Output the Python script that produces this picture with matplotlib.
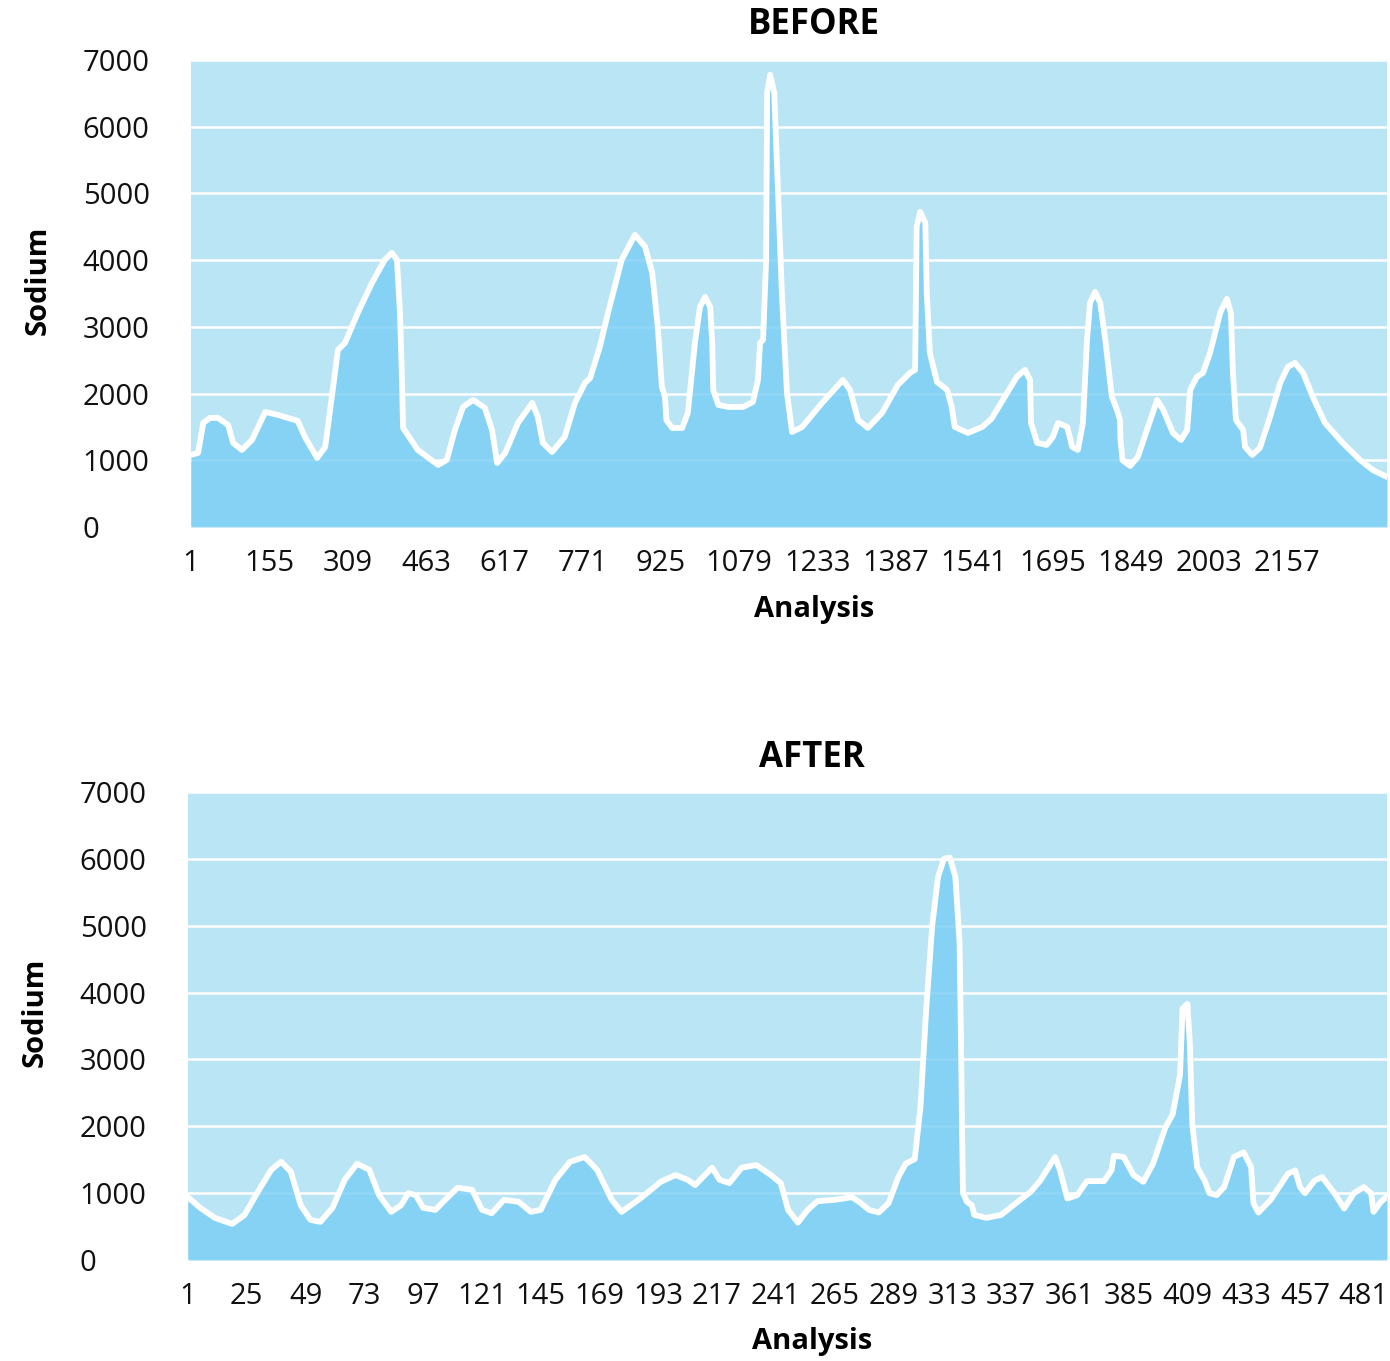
import numpy as np
import matplotlib
matplotlib.use('Agg')
import matplotlib.pyplot as plt

plt.rcParams['font.family'] = 'Open Sans'

# ============================================================
# DATA
# ============================================================
before_x = [1, 15, 25, 38, 54, 74, 84, 101, 121, 147, 172, 211, 225, 249, 265, 278,
            290, 304, 329, 357, 382, 396, 406, 412, 416, 418, 447, 487, 504, 520, 536,
            556, 579, 593, 603, 619, 644, 672, 683, 693, 711, 736, 756, 776, 786, 805,
            821, 848, 874, 894, 908, 919, 927, 933, 936, 947, 967, 978, 992, 1002, 1012,
            1022, 1026, 1028, 1038, 1057, 1087, 1106, 1116, 1120, 1126, 1132, 1134, 1140,
            1148, 1153, 1163, 1173, 1183, 1203, 1242, 1283, 1297, 1313, 1332, 1360, 1391,
            1415, 1425, 1426, 1428, 1435, 1445, 1448, 1454, 1468, 1488, 1497, 1503, 1529,
            1557, 1575, 1606, 1625, 1641, 1651, 1653, 1665, 1684, 1696, 1706, 1724, 1734,
            1745, 1755, 1763, 1769, 1779, 1789, 1799, 1812, 1822, 1828, 1829, 1833, 1848,
            1863, 1881, 1901, 1913, 1932, 1948, 1960, 1966, 1979, 1991, 2005, 2025, 2038,
            2046, 2050, 2056, 2070, 2074, 2088, 2103, 2123, 2143, 2158, 2172, 2188, 2207,
            2231, 2266, 2300, 2325, 2353]
before_sodium = [1080, 1110, 1560, 1635, 1635, 1530, 1260, 1155, 1305, 1725, 1680, 1590,
                 1350, 1035, 1200, 1950, 2655, 2760, 3210, 3660, 4005, 4110, 4005, 3210,
                 2205, 1485, 1155, 930, 1005, 1455, 1800, 1905, 1785, 1455, 960, 1110,
                 1560, 1860, 1650, 1260, 1125, 1350, 1860, 2160, 2235, 2700, 3210, 4005,
                 4380, 4200, 3810, 3000, 2100, 1950, 1600, 1485, 1485, 1710, 2760, 3300,
                 3450, 3300, 2760, 2055, 1830, 1800, 1800, 1875, 2205, 2760, 2805, 4005,
                 6510, 6780, 6510, 5505, 3510, 2010, 1425, 1500, 1860, 2205, 2055, 1605,
                 1485, 1710, 2130, 2310, 2355, 3000, 4500, 4725, 4560, 3510, 2610, 2175,
                 2055, 1800, 1500, 1410, 1500, 1620, 2010, 2250, 2355, 2205, 1560, 1260,
                 1230, 1350, 1560, 1500, 1200, 1155, 1560, 2805, 3360, 3525, 3360, 2805,
                 1950, 1755, 1605, 1300, 1000, 915, 1050, 1455, 1905, 1755, 1410, 1305,
                 1455, 2055, 2250, 2310, 2610, 3210, 3420, 3210, 2310, 1605, 1455, 1200,
                 1080, 1185, 1650, 2160, 2400, 2460, 2310, 1950, 1560, 1260, 1005, 855, 750]

after_x = [1, 6, 12, 19, 24, 30, 35, 39, 43, 47, 51, 55, 60, 65, 70, 75, 79, 84, 88, 91,
           94, 97, 102, 106, 111, 117, 121, 125, 130, 136, 141, 145, 151, 157, 163, 168,
           174, 178, 186, 194, 200, 205, 208, 212, 215, 218, 222, 227, 233, 239, 243, 246,
           250, 254, 258, 265, 272, 275, 279, 283, 287, 291, 294, 297.7, 300, 302.4, 304.8,
           307.2, 309.6, 312, 314.3, 316, 316.6, 317, 317.4, 319, 321, 322, 327, 333, 339,
           345, 349, 355, 357, 360, 364, 368, 375, 378, 379, 383, 387, 391, 395, 400, 403,
           406, 407, 409, 410, 411, 413, 416, 418, 421, 424, 428, 432, 435, 436, 438, 443,
           450, 453, 455, 457, 461, 464, 469, 473, 477, 481, 484, 485, 488, 490.5]
after_sodium = [940, 780, 630, 540, 670, 1050, 1350, 1470, 1320, 820, 600, 570, 780, 1200,
                1440, 1350, 970, 720, 820, 1000, 970, 780, 750, 900, 1080, 1050, 750, 700,
                900, 870, 720, 750, 1200, 1470, 1540, 1350, 900, 720, 930, 1170, 1270, 1200,
                1120, 1270, 1380, 1200, 1150, 1380, 1420, 1270, 1150, 750, 560, 750, 880,
                900, 940, 870, 750, 710, 850, 1240, 1440, 1510, 2280, 3760, 4990, 5730,
                6000, 6020, 5730, 4740, 3260, 2000, 1000, 870, 820, 675, 630, 675, 850,
                1020, 1190, 1540, 1340, 920, 970, 1180, 1180, 1340, 1560, 1540, 1270, 1170,
                1440, 1980, 2180, 2770, 3760, 3830, 3260, 2030, 1390, 1190, 1000, 970, 1090,
                1540, 1610, 1390, 850, 710, 900, 1290, 1340, 1090, 1000, 1190, 1240, 1000,
                770, 1000, 1090, 1000, 720, 870, 950]

before_ticks = list(range(1, 2158, 154))
after_ticks = list(range(1, 482, 24))
y_ticks = list(range(0, 7001, 1000))

BG = '#b9e5f5'
FILL = '#7ecff6'
W, H = 1390, 1361


def draw_panel(ax, x, y, xticks, xmax):
    ax.set_facecolor(BG)
    ax.fill_between(x, 0, y, color=FILL, alpha=0.85, lw=0, zorder=2)
    ax.plot(x, y, color='white', lw=4.2, solid_joinstyle='round',
            solid_capstyle='round', zorder=3)
    ax.set_xlim(1, xmax)
    ax.set_ylim(0, 7000)
    ax.set_yticks(y_ticks)
    ax.set_xticks(xticks)
    ax.set_xticklabels([str(t) for t in xticks])
    ax.grid(axis='y', color='white', lw=1.8, zorder=1)
    ax.set_axisbelow(True)
    for s in ax.spines.values():
        s.set_visible(False)
    ax.tick_params(axis='both', length=0, labelsize=21, colors='#111111')
    ax.tick_params(axis='x', pad=16)
    ax.tick_params(axis='y', pad=78)
    for lab in ax.get_yticklabels():
        lab.set_horizontalalignment('left')


fig = plt.figure(figsize=(W / 100, H / 100), dpi=100)

ax1 = fig.add_axes([191 / W, 1 - 527 / H, (1387 - 191) / W, (527 - 60) / H])
draw_panel(ax1, before_x, before_sodium, before_ticks, 2353)

ax2 = fig.add_axes([188 / W, 1 - 1260 / H, (1387 - 188) / W, (1260 - 792) / H])
draw_panel(ax2, after_x, after_sodium, after_ticks, 490.5)

# titles and axis labels
fig.text(814 / W, 1 - 25 / H, 'BEFORE', ha='center', va='center', fontsize=25, fontweight='bold')
fig.text(812 / W, 1 - 758 / H, 'AFTER', ha='center', va='center', fontsize=25, fontweight='bold')
fig.text(814 / W, 1 - 609 / H, 'Analysis', ha='center', va='center', fontsize=21, fontweight='bold')
fig.text(812 / W, 1 - 1342 / H, 'Analysis', ha='center', va='center', fontsize=21, fontweight='bold')
fig.text(38 / W, 1 - 280 / H, 'Sodium', ha='center', va='center', rotation=90, fontsize=21, fontweight='bold')
fig.text(35 / W, 1 - 1012 / H, 'Sodium', ha='center', va='center', rotation=90, fontsize=21, fontweight='bold')

fig.savefig('out.png', dpi=100)
